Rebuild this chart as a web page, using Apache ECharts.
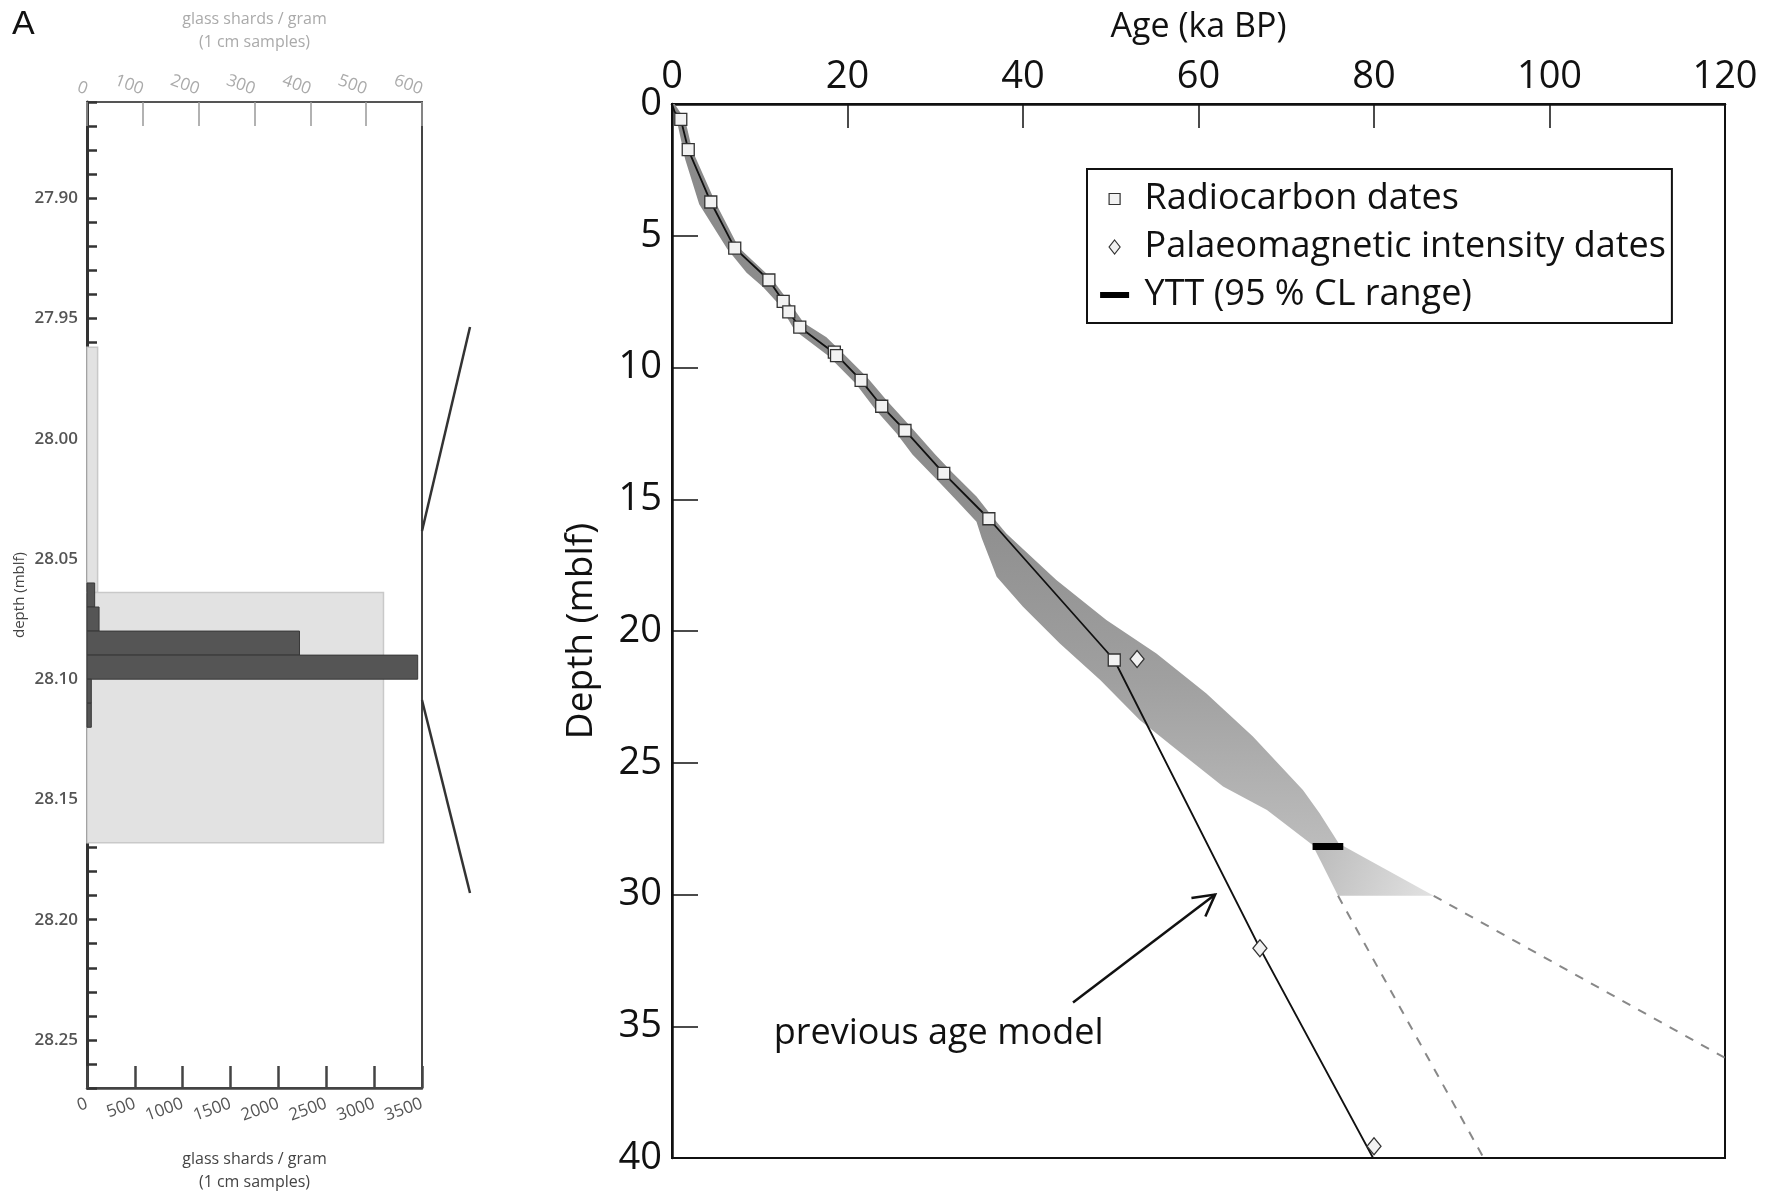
<!DOCTYPE html>
<html>
<head>
<meta charset="utf-8">
<title>Age model and YTT shard profile</title>
<script src="https://cdn.jsdelivr.net/npm/echarts@6.0.0/dist/echarts.min.js"></script>
<style>
  html, body { margin: 0; padding: 0; background: #fff; }
  #chart { width: 1771px; height: 1192px; }
</style>
</head>
<body>
<div id="chart"></div>
<script>
const FONT = '"Open Sans", "Noto Sans", sans-serif'

// ---- left panel: glass shard concentrations ----
// 1 cm samples (bottom axis, 0-3500)
const shardTop = [28.06, 28.07, 28.08, 28.09, 28.10, 28.11]
const shardBottom = [28.07, 28.08, 28.09, 28.10, 28.11, 28.12]
const shardCounts = [80, 126, 2220, 3455, 45, 45]
// coarse samples (top axis, 0-600)
const coarseTop = [27.962, 28.064]
const coarseBottom = [28.064, 28.168]
const coarseCounts = [19, 531]

// ---- right panel: age model ----
const radiocarbonAge = [1.0, 1.85, 4.42, 7.15, 11.04, 12.67, 13.31, 14.56, 18.5, 18.75, 21.55, 23.9, 26.55, 30.97, 36.11, 50.4]
const radiocarbonDepth = [0.58, 1.73, 3.72, 5.47, 6.68, 7.49, 7.89, 8.47, 9.42, 9.55, 10.49, 11.47, 12.39, 14.02, 15.74, 21.1]
const palaeomagAge = [53.0, 67.0, 80.0]
const palaeomagDepth = [21.06, 32.04, 39.55]
const prevModelAge = [0, 0.3, 1.0, 1.85, 4.42, 7.15, 11.04, 12.67, 13.31, 14.56, 18.72, 21.55, 23.9, 26.55, 30.97, 36.11, 50.4, 67.0, 79.9]
const prevModelDepth = [0, 0.3, 0.58, 1.73, 3.72, 5.47, 6.68, 7.49, 7.89, 8.47, 9.51, 10.49, 11.47, 12.39, 14.02, 15.74, 21.1, 32.04, 40]
// uncertainty envelope of the new model
const bandOldAge = [0.3, 1.5, 2.3, 4.9, 7.6, 11.3, 13.1, 15.0, 17.6, 19.6, 22.3, 24.6, 27.2, 30.0, 32.0, 34.7, 36.6, 38.1, 43.8, 49.5, 55.2, 60.9, 66.2, 71.9, 73.8, 76.1]
const bandOldDepth = [0, 0.6, 1.75, 3.7, 5.45, 6.6, 7.4, 8.3, 8.85, 9.5, 10.4, 11.3, 12.25, 13.3, 14.0, 14.9, 15.7, 16.3, 18.06, 19.58, 20.85, 22.37, 24.0, 26.03, 26.92, 28.12]
const bandYoungAge = [0, 0.6, 1.5, 3.1, 6.3, 8.5, 10.4, 12.3, 14.0, 17.8, 20.9, 23.2, 25.6, 27.4, 30.3, 32.6, 34.7, 35.3, 37.0, 40.0, 44.2, 48.8, 53.3, 57.1, 62.8, 67.8, 73.0]
const bandYoungDepth = [0, 0.7, 2.1, 3.8, 5.5, 6.4, 6.95, 7.65, 8.6, 9.55, 10.6, 11.6, 12.5, 13.3, 14.3, 15.1, 15.85, 16.48, 17.94, 19.08, 20.47, 21.86, 23.38, 24.39, 25.9, 26.79, 28.12]
// extrapolated part below the YTT
const extAge = [73.0, 76.3, 86.8, 75.9]
const extDepth = [28.12, 28.12, 30.05, 30.05]
const dashYoungAge = [75.9, 92.5]
const dashYoungDepth = [30.05, 40]
const dashOldAge = [86.8, 120]
const dashOldDepth = [30.05, 36.2]
const yttAge = [73.0, 76.5]
const yttDepth = [28.18, 28.18]
const arrowAge = [45.7, 61.9]
const arrowDepth = [34.1, 30.0]

const zip = (a, b) => a.map((v, i) => [v, b[i]])

const chart = echarts.init(document.getElementById('chart'))

function barItem (style) {
  return (params, api) => {
    const p0 = api.coord([0, api.value(0)])
    const p1 = api.coord([api.value(2), api.value(1)])
    return {
      type: 'rect',
      shape: { x: p0[0], y: p0[1], width: p1[0] - p0[0], height: p1[1] - p0[1] },
      style: style
    }
  }
}

function polygonItem (pts, fill) {
  return (params, api) => ({
    type: 'polygon',
    shape: { points: pts.map(p => api.coord(p)) },
    style: { fill: fill }
  })
}

const bandPoints = zip(bandOldAge, bandOldDepth).concat(zip(bandYoungAge, bandYoungDepth).reverse())

// legend icons drawn inside a 40x16 box (the two moveTo's pin the box)
const BOX = 'M0,0M40,16'
const iconSquare = 'path://' + BOX + 'M9.5,2.5H20.5V13.5H9.5Z'
const iconDiamond = 'path://' + BOX + 'M15,1L20.5,8L15,15L9.5,8Z'
const iconBar = 'path://' + BOX + 'M0.5,5H29.5V11H0.5Z'

const option = {
  backgroundColor: '#fff',
  textStyle: { fontFamily: FONT },
  animation: false,
  grid: [
    { left: 87, top: 102, width: 335, height: 986, show: true, borderColor: '#444', borderWidth: 2, outerBoundsMode: 'none' },
    { left: 672, top: 104, width: 1053, height: 1054, show: true, borderColor: '#111', borderWidth: 2, outerBoundsMode: 'none' }
  ],
  xAxis: [
    {
      gridIndex: 0, type: 'value', position: 'bottom', min: 0, max: 3500, interval: 500,
      name: 'glass shards / gram\n(1 cm samples)', nameLocation: 'middle', nameGap: 60,
      nameTextStyle: { color: '#444', fontSize: 16, lineHeight: 23 },
      axisLine: { lineStyle: { color: '#444', width: 2.5 } },
      axisTick: { inside: true, length: 22, lineStyle: { color: '#444', width: 2.5 } },
      axisLabel: { rotate: 20, color: '#555', fontSize: 17, margin: 15, formatter: v => String(v) },
      splitLine: { show: false }
    },
    {
      gridIndex: 0, type: 'value', position: 'top', min: 0, max: 600, interval: 100,
      name: 'glass shards / gram\n(1 cm samples)', nameLocation: 'middle', nameGap: 48,
      nameTextStyle: { color: '#aaa', fontSize: 16, lineHeight: 23 },
      axisLine: { lineStyle: { color: '#555', width: 2 } },
      axisTick: { inside: true, length: 24, lineStyle: { color: '#999', width: 1.5 } },
      axisLabel: { rotate: 20, color: '#aaa', fontSize: 17, margin: 12 },
      splitLine: { show: false }
    },
    {
      gridIndex: 1, type: 'value', position: 'top', min: 0, max: 120, interval: 20,
      name: 'Age (ka BP)', nameLocation: 'middle', nameGap: 60,
      nameTextStyle: { color: '#111', fontSize: 34 },
      axisLine: { lineStyle: { color: '#111', width: 2.5 } },
      axisTick: { inside: true, length: 24, lineStyle: { color: '#111', width: 1.5 } },
      axisLabel: { color: '#111', fontSize: 38, margin: 8 },
      splitLine: { show: false }
    }
  ],
  yAxis: [
    {
      gridIndex: 0, type: 'value', inverse: true, min: 27.86, max: 28.27, interval: 0.01,
      name: 'depth (mblf)', nameLocation: 'middle', nameGap: 60,
      nameTextStyle: { color: '#444', fontSize: 15 },
      axisLine: { lineStyle: { color: '#333', width: 3 } },
      axisTick: { inside: true, length: 10, lineStyle: { color: '#333', width: 2.5 } },
      axisLabel: {
        color: '#555', fontSize: 17, fontWeight: 600, margin: 9,
        formatter: v => Math.round(v * 100) % 5 === 0 ? v.toFixed(2) : ''
      },
      splitLine: { show: false }
    },
    {
      gridIndex: 1, type: 'value', inverse: true, min: 0, max: 40, interval: 5,
      name: 'Depth (mblf)', nameLocation: 'middle', nameGap: 72,
      nameTextStyle: { color: '#111', fontSize: 37 },
      axisLine: { lineStyle: { color: '#111', width: 2.5 } },
      axisTick: { inside: true, length: 26, lineStyle: { color: '#111', width: 1.5 } },
      axisLabel: { color: '#111', fontSize: 38, margin: 10 },
      splitLine: { show: false }
    }
  ],
  legend: {
    orient: 'vertical', left: 1087, top: 169,
    borderColor: '#111', borderWidth: 2, padding: [6, 6, 4, 12],
    itemWidth: 40, itemHeight: 16, itemGap: 0,
    textStyle: { fontSize: 36, color: '#111', lineHeight: 48 },
    data: [
      { name: 'Radiocarbon dates', icon: iconSquare, itemStyle: { borderWidth: 1.2 } },
      { name: 'Palaeomagnetic intensity dates', icon: iconDiamond, itemStyle: { borderWidth: 1.2 } },
      { name: 'YTT (95 % CL range)', icon: iconBar }
    ]
  },
  graphic: [
    { type: 'text', left: 12, top: 8, style: { text: 'A', fontSize: 34, fontFamily: '"Liberation Sans", Arial, sans-serif', fill: '#111' } },
    { type: 'line', shape: { x1: 422, y1: 531, x2: 470, y2: 327 }, style: { stroke: '#333', lineWidth: 2.5 } },
    { type: 'line', shape: { x1: 422, y1: 700, x2: 470, y2: 893 }, style: { stroke: '#333', lineWidth: 2.5 } }
  ],
  series: [
    {
      type: 'custom', name: 'coarse samples', xAxisIndex: 1, yAxisIndex: 0,
      data: zip(coarseTop, coarseBottom).map((d, i) => [d[0], d[1], coarseCounts[i]]),
      encode: { x: 2, y: [0, 1] },
      renderItem: barItem({ fill: '#e2e2e2', stroke: '#c9c9c9', lineWidth: 1.5 }),
      z: 1
    },
    {
      type: 'custom', name: '1 cm samples', xAxisIndex: 0, yAxisIndex: 0,
      data: zip(shardTop, shardBottom).map((d, i) => [d[0], d[1], shardCounts[i]]),
      encode: { x: 2, y: [0, 1] },
      renderItem: barItem({ fill: '#555', stroke: '#383838', lineWidth: 1 }),
      z: 2
    },
    {
      type: 'custom', name: 'envelope', xAxisIndex: 2, yAxisIndex: 1,
      data: [[0, 0]],
      renderItem: polygonItem(bandPoints, new echarts.graphic.LinearGradient(0, 0, 0, 1, [
        { offset: 0, color: '#8a8a8a' },
        { offset: 0.55, color: '#8e8e8e' },
        { offset: 0.78, color: '#a0a0a0' },
        { offset: 1, color: '#bcbcbc' }
      ])),
      z: 1
    },
    {
      type: 'custom', name: 'extrapolation', xAxisIndex: 2, yAxisIndex: 1,
      data: [[0, 0]],
      renderItem: polygonItem(zip(extAge, extDepth), new echarts.graphic.LinearGradient(0, 0, 1, 1, [
        { offset: 0, color: '#bababa' },
        { offset: 1, color: '#e2e2e2' }
      ])),
      z: 1
    },
    {
      type: 'line', xAxisIndex: 2, yAxisIndex: 1, data: zip(dashYoungAge, dashYoungDepth),
      showSymbol: false, lineStyle: { color: '#888', width: 2, type: [9, 9] }, z: 2
    },
    {
      type: 'line', xAxisIndex: 2, yAxisIndex: 1, data: zip(dashOldAge, dashOldDepth),
      showSymbol: false, lineStyle: { color: '#888', width: 2, type: [9, 9] }, z: 2
    },
    {
      type: 'line', name: 'previous age model', xAxisIndex: 2, yAxisIndex: 1,
      data: zip(prevModelAge, prevModelDepth),
      showSymbol: false, lineStyle: { color: '#111', width: 1.8 }, z: 3
    },
    {
      type: 'line', name: 'YTT (95 % CL range)', xAxisIndex: 2, yAxisIndex: 1,
      data: zip(yttAge, yttDepth),
      showSymbol: false, itemStyle: { color: '#000' }, lineStyle: { color: '#000', width: 7 }, z: 4
    },
    {
      type: 'scatter', name: 'Radiocarbon dates', xAxisIndex: 2, yAxisIndex: 1,
      data: zip(radiocarbonAge, radiocarbonDepth),
      symbol: 'rect', symbolSize: 12,
      itemStyle: { color: '#f2f2f2', borderColor: '#333', borderWidth: 1.3, opacity: 1 }, z: 5
    },
    {
      type: 'scatter', name: 'Palaeomagnetic intensity dates', xAxisIndex: 2, yAxisIndex: 1,
      data: zip(palaeomagAge, palaeomagDepth),
      symbol: 'diamond', symbolSize: [14, 17],
      itemStyle: { color: '#f2f2f2', borderColor: '#333', borderWidth: 1.3, opacity: 1 }, z: 5
    },
    {
      type: 'custom', name: 'annotation', xAxisIndex: 2, yAxisIndex: 1,
      data: [[0, 0]], clip: false,
      renderItem: (params, api) => {
        const a = api.coord([arrowAge[0], arrowDepth[0]])
        const b = api.coord([arrowAge[1], arrowDepth[1]])
        const ang = Math.atan2(b[1] - a[1], b[0] - a[0])
        const h = 24
        const w = 0.5
        const p1 = [b[0] - h * Math.cos(ang - w), b[1] - h * Math.sin(ang - w)]
        const p2 = [b[0] - h * Math.cos(ang + w), b[1] - h * Math.sin(ang + w)]
        const t = api.coord([11.6, 35.3])
        return {
          type: 'group',
          children: [
            { type: 'line', shape: { x1: a[0], y1: a[1], x2: b[0], y2: b[1] }, style: { stroke: '#111', lineWidth: 2.5 } },
            { type: 'polyline', shape: { points: [p1, b, p2] }, style: { stroke: '#111', lineWidth: 2.5, fill: null } },
            { type: 'text', x: t[0], y: t[1], style: { text: 'previous age model', fontSize: 36, fontFamily: FONT, fill: '#111', align: 'left', verticalAlign: 'middle' } }
          ]
        }
      },
      z: 5
    }
  ]
}

chart.setOption(option)
</script>
</body>
</html>
